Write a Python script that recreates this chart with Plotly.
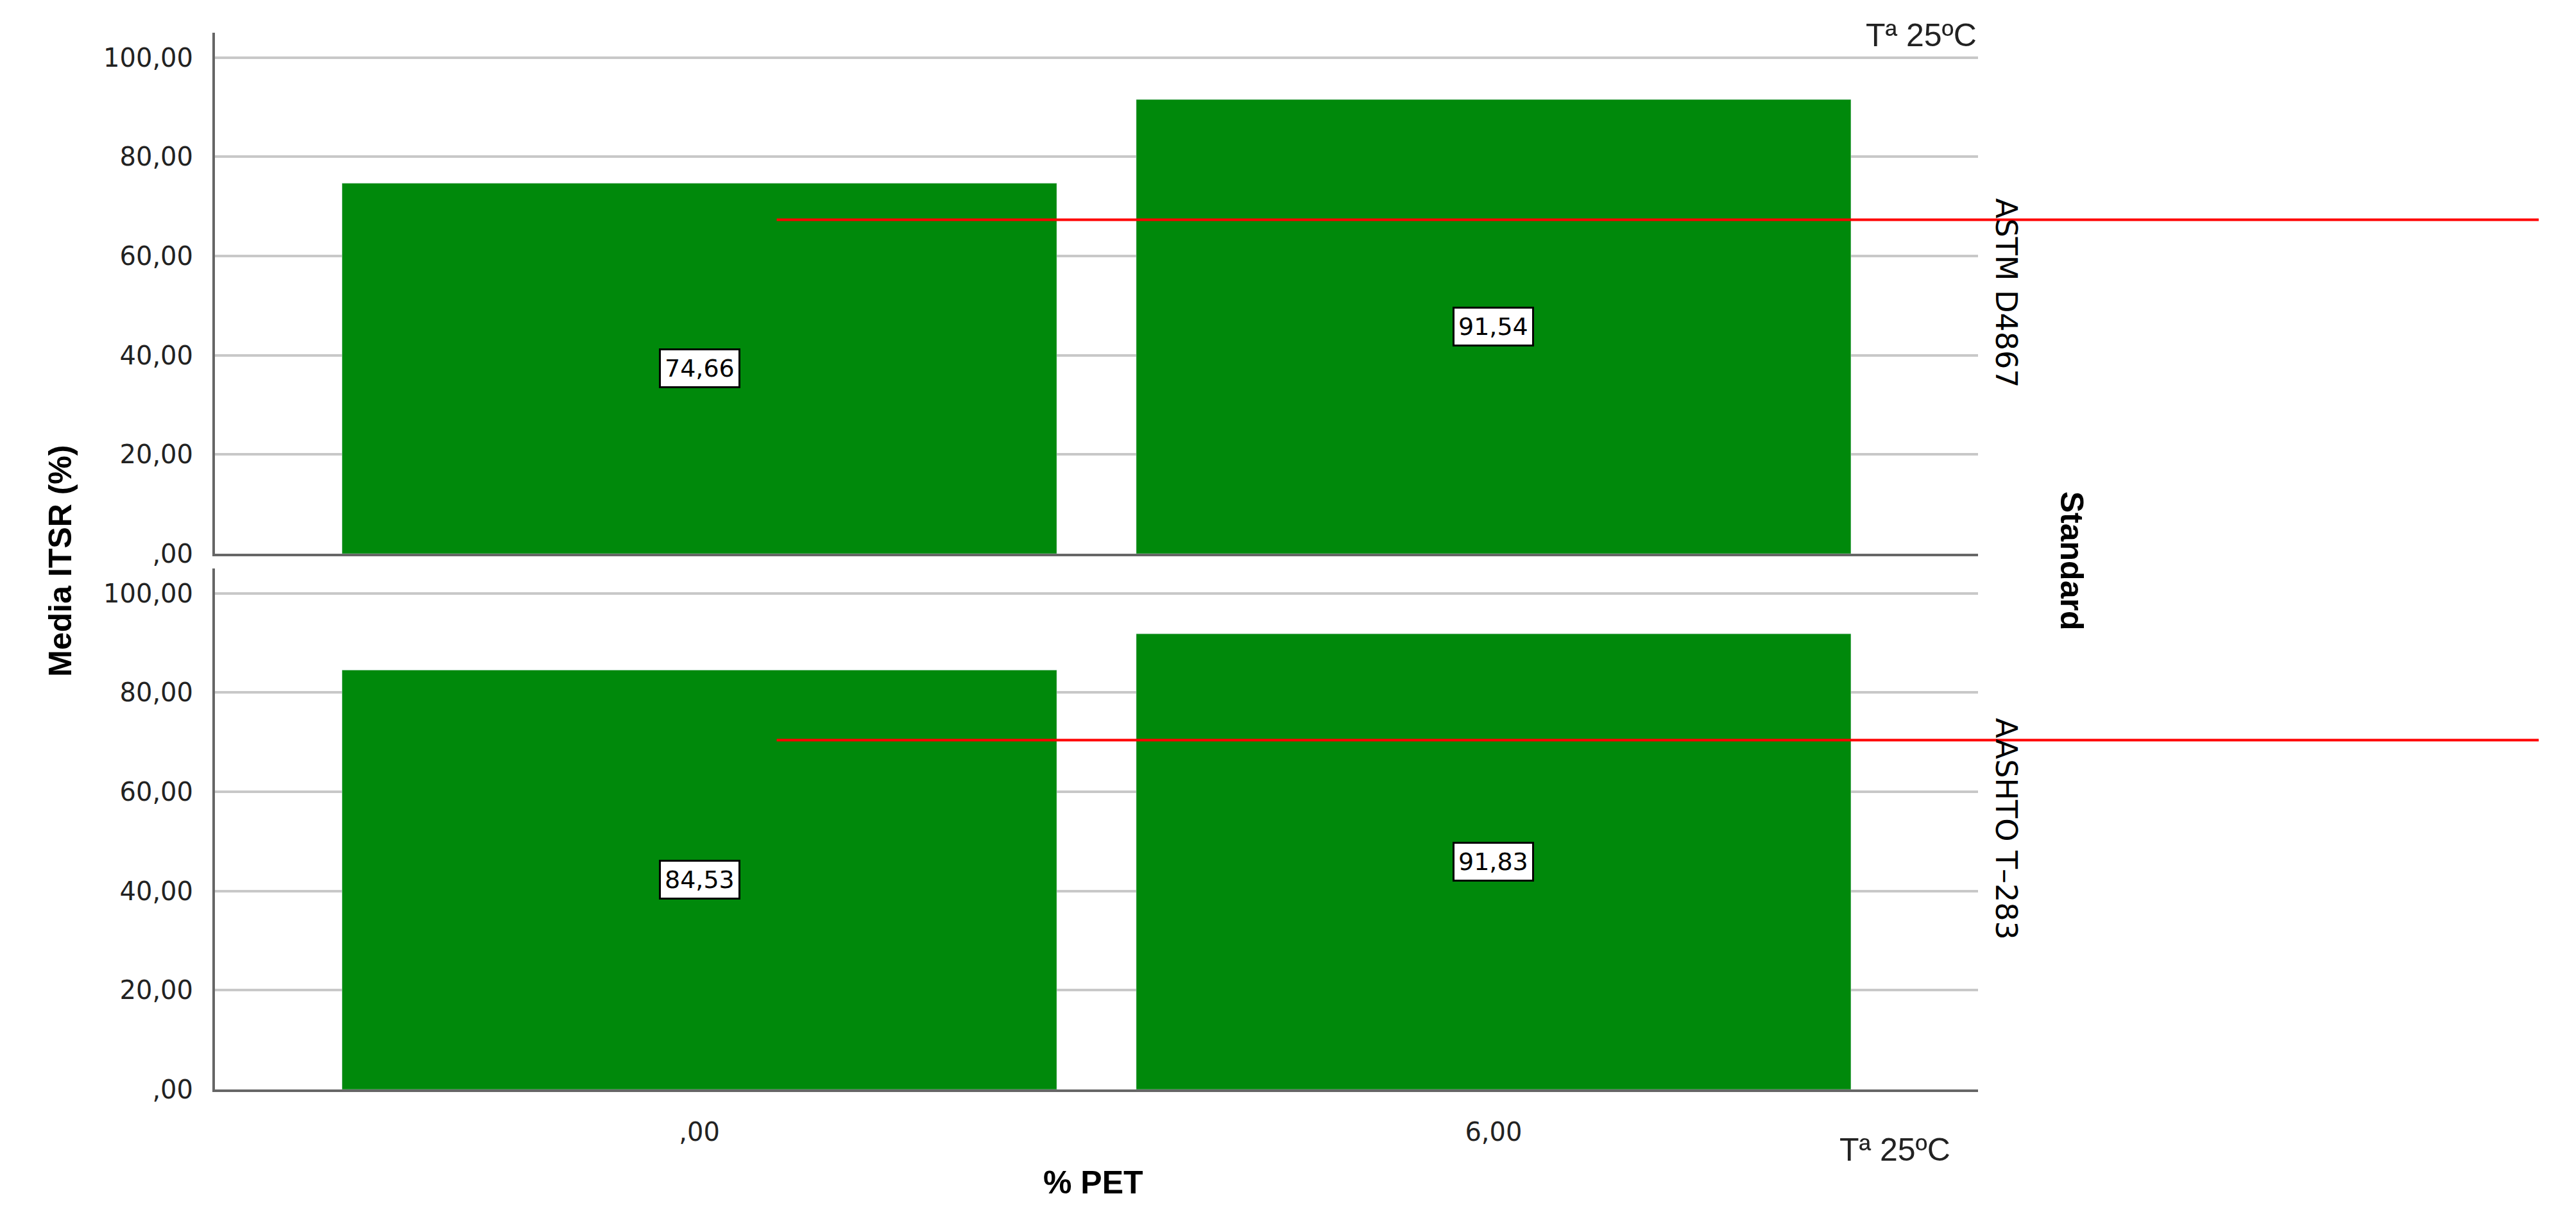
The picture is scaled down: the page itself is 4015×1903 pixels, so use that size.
import plotly.graph_objects as go

# data
pet_levels = [",00", "6,00"]
astm_itsr = [74.66, 91.54]
aashto_itsr = [84.53, 91.83]
astm_limit = 67.3
aashto_limit = 70.4
standards = ["ASTM D4867", "AASHTO T–283"]
y_ticks = [0, 20, 40, 60, 80, 100]
y_ticktext = [",00", "20,00", "40,00", "60,00", "80,00", "100,00"]

GREEN = "#00890B"
AXIS = "#666666"
GRID = "#C8C8C8"
TICK_FONT = dict(family="DejaVu Sans", size=40, color="#222222")
TITLE_FONT = dict(family="Liberation Sans", size=50, color="black")


def fmt(v):
    return f"{v:.2f}".replace(".", ",")


fig = go.Figure()

# top panel: ASTM, bottom panel: AASHTO
fig.add_trace(go.Bar(x=pet_levels, y=astm_itsr, marker_color=GREEN,
                     xaxis="x", yaxis="y", hoverinfo="x+y"))
fig.add_trace(go.Bar(x=pet_levels, y=aashto_itsr, marker_color=GREEN,
                     xaxis="x2", yaxis="y2", hoverinfo="x+y"))

axis_common = dict(showline=True, linecolor=AXIS, linewidth=4, zeroline=False)

fig.update_layout(
    width=4015,
    height=1903,
    plot_bgcolor="white",
    paper_bgcolor="white",
    showlegend=False,
    bargap=0.1,
    margin=dict(l=327, r=940, t=43, b=213),
    xaxis=dict(domain=[0, 1], anchor="y", range=[-0.61, 1.61], showgrid=False,
               showticklabels=False, ticks="", **axis_common),
    xaxis2=dict(domain=[0, 1], anchor="y2", range=[-0.61, 1.61], showgrid=False,
                ticks="", tickfont=TICK_FONT, ticklabelstandoff=28, **axis_common),
    yaxis=dict(domain=[0.507, 1], anchor="x", range=[0, 105], tickvals=y_ticks,
               ticktext=y_ticktext, tickfont=TICK_FONT, ticks="",
               ticklabelstandoff=22, showgrid=True, gridcolor=GRID, gridwidth=4,
               **axis_common),
    yaxis2=dict(domain=[0, 0.493], anchor="x2", range=[0, 105], tickvals=y_ticks,
                ticktext=y_ticktext, tickfont=TICK_FONT, ticks="",
                ticklabelstandoff=22, showgrid=True, gridcolor=GRID, gridwidth=4,
                **axis_common),
)

# reference lines
for limit, yref in [(astm_limit, "y"), (aashto_limit, "y2")]:
    fig.add_shape(type="line", xref="paper", yref=yref, x0=0.3186, x1=1.318,
                  y0=limit, y1=limit, line=dict(color="#FF0000", width=4),
                  layer="above")

# value labels in the middle of each bar
label_font = dict(family="DejaVu Sans", size=38, color="black")
for vals, xr, yr in [(astm_itsr, "x", "y"), (aashto_itsr, "x2", "y2")]:
    for cat, v in zip(pet_levels, vals):
        fig.add_annotation(x=cat, y=v / 2, xref=xr, yref=yr, text=fmt(v),
                           showarrow=False, font=label_font, bgcolor="white",
                           bordercolor="black", borderwidth=3, borderpad=6,
                           xanchor="center", yanchor="middle")


def label(text, x, y, font, angle=0, xanchor="center"):
    fig.add_annotation(x=x, y=y, xref="paper", yref="paper", text=text,
                       textangle=angle, showarrow=False, font=font,
                       xanchor=xanchor, yanchor="middle")


facet_font = dict(family="DejaVu Sans", size=46, color="black")
label(standards[0], 1.016, 0.7535, facet_font, 90)
label(standards[1], 1.016, 0.2465, facet_font, 90)
label("<b>Standard</b>", 1.0534, 0.5, TITLE_FONT, 90)
label("<b>Media ITSR (%)</b>", -0.088, 0.5, TITLE_FONT, -90)
label("<b>% PET</b>", 0.498, -0.088, TITLE_FONT)

temp_font = dict(family="Liberation Sans", size=50, color="#222222")
label("Tª 25ºC", 1.0, 0.9976, temp_font, xanchor="right")
label("Tª 25ºC", 0.9527, -0.057, temp_font)

fig.write_html("out.html")
